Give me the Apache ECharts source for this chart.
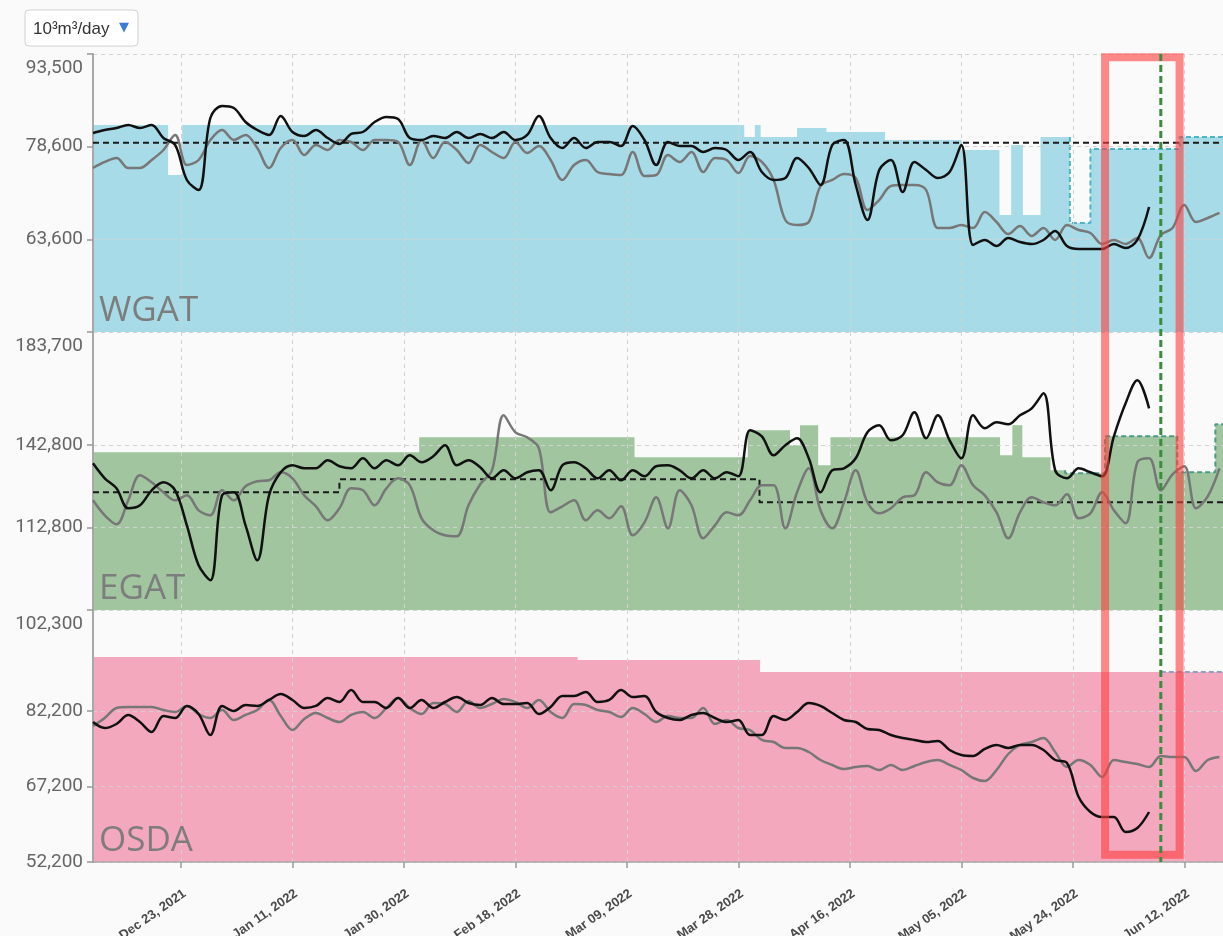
<!DOCTYPE html>
<html><head><meta charset="utf-8">
<script src="https://cdn.jsdelivr.net/npm/echarts@6/dist/echarts.min.js"></script>
<style>html,body{margin:0;padding:0;background:#fafafa;}#chart{width:1223px;height:936px;}</style>
</head><body><div id="chart"></div>
<script>
// ---- axis / time setup ----
const START_UTC = Date.UTC(2021, 11, 8);   // day 0 = Dec 08, 2021
const DAY_MS = 86400000;
const SAMPLE_STEP_DAYS = 2;                // line samples every 2 days
const X_MIN_DAY = 0, X_MAX_DAY = 192.6;
const tickDates = ['2021-12-23','2022-01-11','2022-01-30','2022-02-18','2022-03-09','2022-03-28','2022-04-16','2022-05-05','2022-05-24','2022-06-12'];

// ---- y scales (per panel) ----
const wgatRange = [48700, 93500];  const wgatTicks = [48700, 63600, 78600, 93500];  const wgatLabels = [63600, 78600, 93500];
const egatRange = [82900, 183700]; const egatTicks = [82900, 112800, 142800, 183700]; const egatLabels = [112800, 142800, 183700];
const osdaRange = [52200, 102300]; const osdaTicks = [52200, 67200, 82200, 102300]; const osdaLabels = [52200, 67200, 82200, 102300];

// ---- WGAT ----
const wgatActual = [80770,81250,81570,82060,81570,82060,79960,78840,73200,71580,
 83190,85120,84800,82540,81250,80450,83510,80930,80290,81250,
 79960,79000,80610,80930,82540,83350,83030,79960,79640,80290,
 79960,80930,79960,80610,79960,80930,79640,80450,83510,79960,
 78350,79960,78350,79320,79320,78670,81900,79640,75610,79320,
 78670,78670,77710,78350,78030,76420,77710,74480,73200,73520,
 76740,75130,72390,78840,79640,72390,66750,74810,76420,71260,
 76100,74810,73520,74480,78840,62720,63530,62560,63850,63200,
 62880,63530,64980,62560,62080,62080,62080,62880,62240,63530,
 68840];
const wgatPrevYear = [75130,76100,76740,75130,75130,76420,78030,80450,75610,76420,
 79640,81250,79640,80450,78350,75130,78350,79640,77220,78840,
 78030,79640,79320,78030,79640,79640,79320,75610,79640,76740,
 79320,78030,75930,78840,77710,76740,79320,77550,78670,76420,
 73200,75610,76420,74480,74160,74000,77710,73840,74000,77220,
 76100,77710,74480,76740,76420,74320,77060,76100,73200,66750,
 65940,66430,72230,73200,74160,73520,68360,69970,72230,72390,
 72390,71580,65460,65460,65940,65460,68040,66430,64490,65780,
 64170,65460,63530,65940,65140,64650,62880,63530,62880,63850,
 60630,64330,65460,69170,66430,67070,67880];
const wgatBand = [[0,82060],[12.8,74000],[15.2,82060],[111,80120],[112.8,82060],[113.8,80120],[120,81570],[125,80930],[135,79640],[148,78030],[154.5,67550],[156.5,78840],[158.5,67550],[161.5,80120],[166.5,66270],[170,78190],[185.2,80120]];
const wgatBandForecastFrom = 166.5;
const wgatTarget = [[0,79200]];

// ---- EGAT ----
const egatActual = [136090,130650,127020,119770,120860,126300,129200,126300,113610,99110,
 93670,124480,125570,113610,100920,124480,132830,135370,134280,134280,
 137180,135010,134280,137910,134280,137180,135370,139000,136460,138640,
 142620,135370,137180,134650,130650,133550,130650,132830,133550,126300,
 135370,136460,134280,130650,133550,129930,133550,131380,135010,135370,
 133550,130650,133550,130650,132830,131380,148060,145880,139000,142620,
 145160,137910,125570,133550,134280,137910,147330,149870,144430,146240,
 154580,145160,153490,144430,137910,153490,148780,150960,150230,153490,
 156030,161470,133550,130650,134280,132830,131380,145880,157850,166190,
 156030];
const egatPrevYear = [122670,117230,113960,122670,131740,129200,125570,122670,124480,119040,
 117230,126300,122670,127750,129560,129930,132830,130650,124480,120490,
 115420,119770,127020,126300,120860,127020,130650,128110,116140,111790,
 109980,109610,120860,128480,133550,153490,147330,145520,141530,118320,
 120490,122670,115420,119040,116140,120490,109980,114700,123760,112520,
 126300,120860,108890,113610,118320,117230,122670,128110,128110,112520,
 125570,134280,119040,112520,121950,133550,121950,117960,119770,123760,
 124480,132830,129200,128110,135370,128110,124480,118320,108890,118320,
 123760,121950,120860,124850,116140,117960,125570,119040,114330,136460,
 137910,126300,132100,135010,119770,124120,134280];
const egatBand = [[0,140080],[55.6,145520],[92.3,138270],[111.6,148060],[118.8,142620],[120.5,149870],[123.6,135370],[125.7,145520],[154.6,139000],[156.7,149870],[158.4,138270],[163.2,133550],[165.7,132460],[172.5,145880],[184.8,132830],[191.3,150230]];
const egatBandForecastFrom = 165.7;
const egatTarget = [[0,125570],[42,130290],[113.6,121950]];

// ---- OSDA ----
const osdaActual = [80030,78840,79640,81430,80030,78050,81230,80830,83220,81620,
 77450,83220,82220,83410,83220,84410,85600,84410,82820,83220,
 84810,84010,86400,84010,84010,82820,84810,82820,84410,82820,
 84010,85000,83810,83410,84810,83610,83610,83810,81620,83020,
 85200,85200,86000,84010,84410,86400,85000,85200,82020,80830,
 80430,81430,81820,80830,80030,80430,77450,77450,81230,80430,
 82020,83810,83220,81820,80430,80030,78640,78440,77450,76850,
 76460,76060,76260,74470,73470,73280,74670,75460,74870,75460,
 75460,74470,72480,71880,65120,62140,61150,61150,58170,58960,
 62140];
const osdaPrevYear = [79240,80830,82820,83020,83020,83020,82420,82020,83220,81620,
 80830,82420,80430,81430,82420,84410,81230,78440,80630,81820,
 80830,80030,81430,82020,80830,82820,84810,82820,81620,83810,
 83610,82020,84210,82820,83610,84610,84010,82820,84410,82020,
 80830,83610,83410,82420,82020,81030,82820,81620,80030,81230,
 80830,80830,82820,79640,80430,78840,78440,76460,76060,74870,
 74870,74070,72480,71490,70690,71090,71290,70490,71490,70490,
 71290,72080,72480,71490,70490,68900,68310,70490,73670,75460,
 76060,76850,74070,71090,72480,71490,69100,72480,72080,71680,
 71090,73280,73080,73080,70290,72480,73080];
const osdaBand = [[0,92960],[82.6,92360],[113.7,89970]];
const osdaBandForecastFrom = 182;

// ---- annotations ----
const todayDay = 182;                           // green dashed line (Jun 08, 2022)
const highlightDays = [172.5, 185.2];           // red box
const highlightTopWgat = 92970, highlightBottomOsda = 53650;

const panelNames = ['WGAT','EGAT','OSDA'];
const bandColors = ['#a7dbe8','#a0c59f','#f4a8be'];
const forecastBorder = ['#4fb3c9','#4e9a86','#8f9fc9'];
const unitLabel = '10³m³/day';

// ---- helpers ----
const MONTHS = ['Jan','Feb','Mar','Apr','May','Jun','Jul','Aug','Sep','Oct','Nov','Dec'];
function dayOf(s){ const p=s.split('-').map(Number); return (Date.UTC(p[0],p[1]-1,p[2])-START_UTC)/DAY_MS; }
function fmtDay(d){ const t=new Date(START_UTC+Math.round(d)*DAY_MS); const dd=t.getUTCDate(); return MONTHS[t.getUTCMonth()]+' '+(dd<10?'0'+dd:dd)+', '+t.getUTCFullYear(); }
function fmtNum(v){ return String(Math.round(v)).replace(/\B(?=(\d{3})+(?!\d))/g, ','); }
const tickDays = tickDates.map(dayOf);
function sampled(arr){ return arr.map((v,i)=>[i*SAMPLE_STEP_DAYS, v]); }
function withEnd(steps){ const a=steps.slice(); a.push([X_MAX_DAY, steps[steps.length-1][1]]); return a; }
function forecastPart(steps, from){
  const full = withEnd(steps); const out=[];
  let prev = full[0][1];
  for (const p of full){ if (p[0] < from) prev = p[1]; }
  out.push([from, prev]);
  for (const p of full){ if (p[0] >= from) out.push(p); }
  return out;
}

const grids = [
  {left:93, right:0, top:54, height:278, outerBoundsMode:'none', containLabel:false},
  {left:93, right:0, top:332, height:278, outerBoundsMode:'none', containLabel:false},
  {left:93, right:0, top:610, height:252, outerBoundsMode:'none', containLabel:false}
];
function xAxis(gi, show){
  return {type:'value', gridIndex:gi, min:X_MIN_DAY, max:X_MAX_DAY, z:2,
    axisLine:{show:show, onZero:false, lineStyle:{color:'#aaa', width:1.5}},
    axisTick:{show:show, customValues:tickDays, length:6, lineStyle:{color:'#999', width:1.5}},
    axisLabel:{show:show, customValues:tickDays, rotate:35, margin:25, formatter:fmtDay, verticalAlign:'top',
      color:'#4a4a4a', fontSize:13, fontWeight:'bold', fontFamily:'Arial, "Liberation Sans", sans-serif'},
    splitLine:{show:true, lineStyle:{color:'#d2d2d2', type:[4,4], width:1}}
  };
}
function yAxis(gi, range, ticks, labels){
  return {type:'value', gridIndex:gi, min:range[0], max:range[1], z:2,
    axisLine:{show:true, onZero:false, lineStyle:{color:'#a8a8a8', width:2}},
    axisTick:{show:true, customValues:ticks, length:6, lineStyle:{color:'#999', width:1.5}},
    axisLabel:{customValues:labels, formatter:fmtNum, color:'#666', fontSize:19, lineHeight:28, margin:10,
      fontFamily:'Roboto, Arial, sans-serif', verticalAlignMaxLabel:'top'},
    splitLine:{show:true, lineStyle:{color:'#d2d2d2', type:[4,4], width:1}}
  };
}
const panels = [
  {band:wgatBand, from:wgatBandForecastFrom, target:wgatTarget, actual:wgatActual, prev:wgatPrevYear},
  {band:egatBand, from:egatBandForecastFrom, target:egatTarget, actual:egatActual, prev:egatPrevYear},
  {band:osdaBand, from:osdaBandForecastFrom, target:null, actual:osdaActual, prev:osdaPrevYear}
];
const series = [];
panels.forEach((p, gi) => {
  series.push({type:'line', xAxisIndex:gi, yAxisIndex:gi, data:withEnd(p.band), step:'end', symbol:'none', silent:true, z:1,
    lineStyle:{width:0}, areaStyle:{color:bandColors[gi], opacity:1, origin:'start'}});
  series.push({type:'line', xAxisIndex:gi, yAxisIndex:gi, data:forecastPart(p.band, p.from), step:'end', symbol:'none', silent:true, z:1.5,
    lineStyle:{width:2, type:[5,3], color:forecastBorder[gi]}});
  if (p.target) series.push({type:'line', xAxisIndex:gi, yAxisIndex:gi, data:withEnd(p.target), step:'end', symbol:'none', silent:true, z:3,
    lineStyle:{width:2, type:[6,4], color:'#1a1a1a'}});
  series.push({type:'line', xAxisIndex:gi, yAxisIndex:gi, data:sampled(p.prev), smooth:0.35, symbol:'none', silent:true, z:4,
    lineStyle:{width:2.5, color:'#777'}});
  series.push({type:'line', xAxisIndex:gi, yAxisIndex:gi, data:sampled(p.actual), smooth:0.35, symbol:'none', silent:true, z:5,
    lineStyle:{width:2.5, color:'#111'}});
});

const chart = echarts.init(document.getElementById('chart'), null, {renderer:'canvas'});
chart.setOption({
  animation:false, backgroundColor:'#fafafa',
  grid:grids,
  xAxis:[xAxis(0,false), xAxis(1,false), xAxis(2,true)],
  yAxis:[yAxis(0,wgatRange,wgatTicks,wgatLabels), yAxis(1,egatRange,egatTicks,egatLabels), yAxis(2,osdaRange,osdaTicks,osdaLabels)],
  series:series
});

// ---- annotations in data space ----
const px = d => chart.convertToPixel({xAxisIndex:0}, d);
const hx0 = px(highlightDays[0]), hx1 = px(highlightDays[1]);
const hy0 = chart.convertToPixel({yAxisIndex:0}, highlightTopWgat);
const hy1 = chart.convertToPixel({yAxisIndex:2}, highlightBottomOsda);
const gTop = chart.convertToPixel({yAxisIndex:0}, wgatRange[1]);
const gBot = chart.convertToPixel({yAxisIndex:2}, osdaRange[0]);
const tx = px(todayDay);
const panelBottoms = [0,1,2].map(i => chart.convertToPixel({yAxisIndex:i}, [wgatRange,egatRange,osdaRange][i][0]));

const graphics = [
  {type:'rect', z:100, shape:{x:hx0, y:hy0, width:hx1-hx0, height:hy1-hy0}, style:{fill:'none', stroke:'rgba(255,60,60,0.6)', lineWidth:8}},
  {type:'line', z:101, shape:{x1:tx, y1:gTop, x2:tx, y2:gBot}, style:{stroke:'#3d8b3d', lineWidth:3, lineDash:[7,4]}},
  {type:'rect', z:102, shape:{x:25, y:10, width:113, height:36, r:4}, style:{fill:'#fff', stroke:'#d0d0d0', lineWidth:1}},
  {type:'text', z:103, x:33, y:29, style:{text:unitLabel, fill:'#333', font:'17px Arial, "Liberation Sans", sans-serif', verticalAlign:'middle'}},
  {type:'text', z:103, x:119, y:28, style:{text:'▼', fill:'#3b7bd6', font:'13px "DejaVu Sans", sans-serif', verticalAlign:'middle'}}
];
panelNames.forEach((n,i) => {
  graphics.push({type:'text', z:50, x:99, y:panelBottoms[i]-3, style:{text:n, fill:'#7d7d7d', font:'35px "Open Sans", sans-serif', verticalAlign:'bottom'}});
});
chart.setOption({graphic:graphics});
</script></body></html>
